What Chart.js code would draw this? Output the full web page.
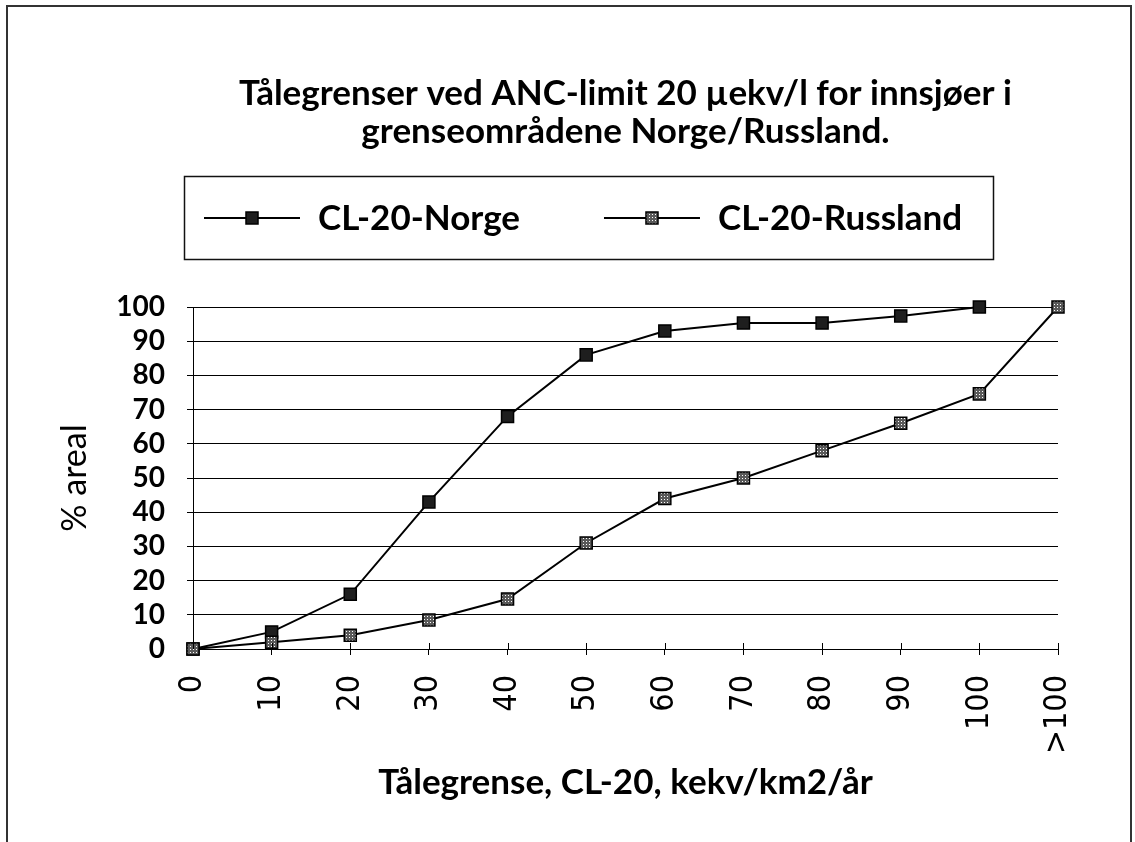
<!DOCTYPE html>
<html>
<head>
<meta charset="utf-8">
<title>Tålegrenser CL-20</title>
<script src="https://cdn.jsdelivr.net/npm/chart.js@4/dist/chart.umd.min.js"></script>
<style>
    html, body { margin: 0; padding: 0; background: #fff; }
    #wrap { position: relative; width: 1135px; height: 842px; }
</style>
</head>
<body>
<div id="wrap"><canvas id="line_chart_cl20" width="1135" height="842"></canvas></div>
<script>
var categories = ["0", "10", "20", "30", "40", "50", "60", "70", "80", "90", "100", ">100"];
var valuesNorge = [0, 5, 16, 43, 68, 86, 93, 95.3, 95.3, 97.4, 100, null];
var valuesRussland = [0, 2, 4, 8.5, 14.6, 31, 44, 50, 58, 66, 74.6, 100];
var yTicks = [0, 10, 20, 30, 40, 50, 60, 70, 80, 90, 100];
var seriesNames = ["CL-20-Norge", "CL-20-Russland"];
var titleLines = ["Tålegrenser ved ANC-limit 20 µekv/l for innsjøer i", "grenseområdene Norge/Russland."];

var chartCL;
var ctxMain = document.getElementById("line_chart_cl20").getContext("2d");

// grainy grey fill for the Russland squares
function dotFill(base, dot){
    var c = document.createElement('canvas');
    c.width = 3; c.height = 3;
    var g = c.getContext('2d');
    g.fillStyle = base;
    g.fillRect(0, 0, 3, 3);
    g.fillStyle = dot;
    g.fillRect(1, 1, 1, 1);
    return ctxMain.createPattern(c, 'repeat');
}
var fillNorge = '#1e1e1e';
var fillRussland = dotFill('#5a5a5a', '#ffffff');

var markerOpt = { pointStyle: 'rect', radius: 8.5, borderWidth: 1.5, rotation: 0 };

function $each(arr, fn){
    for(var i = 0; i < arr.length; i++){ fn(i, arr[i]); }
}

// frame, legend box and the inner half of the x tick marks
var extras = {
    id: 'extras',
    beforeDraw: function(chart){
        var ctx = chart.ctx;
        ctx.save();
        ctx.fillStyle = '#fff';
        ctx.fillRect(0, 0, chart.width, chart.height);
        ctx.strokeStyle = '#333';
        ctx.lineWidth = 2;
        ctx.beginPath();
        ctx.moveTo(7, 842); ctx.lineTo(7, 6); ctx.lineTo(1131, 6); ctx.lineTo(1131, 842);
        ctx.stroke();
        ctx.restore();
    },
    afterDraw: function(chart){
        var ctx = chart.ctx;
        var xs = chart.scales.x;
        var y0 = chart.chartArea.bottom;
        ctx.save();
        ctx.strokeStyle = '#000';
        ctx.lineWidth = 1;
        for(var i = 0; i < categories.length; i++){
            var px = Math.round(xs.getPixelForTick(i)) + 0.5;
            ctx.beginPath();
            ctx.moveTo(px, y0 - 6);
            ctx.lineTo(px, y0);
            ctx.stroke();
        }
        // legend
        ctx.lineWidth = 1.5;
        ctx.strokeStyle = '#111';
        ctx.strokeRect(184.5, 176.5, 809, 83);
        ctx.font = 'bold 35px Lato';
        ctx.textBaseline = 'middle';
        ctx.textAlign = 'left';
        var lx = 204, ly = 218;
        var fills = [fillNorge, fillRussland];
        $each(seriesNames, function(i, name){
            ctx.strokeStyle = '#000';
            ctx.lineWidth = 2;
            ctx.beginPath();
            ctx.moveTo(lx, ly); ctx.lineTo(lx + 96, ly);
            ctx.stroke();
            ctx.fillStyle = fills[i];
            ctx.lineWidth = 1.5;
            Chart.helpers.drawPoint(ctx, markerOpt, lx + 48, ly);
            ctx.fillStyle = '#000';
            ctx.fillText(name, lx + 114, ly + 1);
            lx = lx + 114 + ctx.measureText(name).width + 84;
        });
        ctx.restore();
    }
};

function drawChartCL(){
    try{
        chartCL.destroy();
    }catch(error){

    }
    var config = {
        type: 'line',
        data: {
            labels: categories,
            datasets: [{
                label: seriesNames[0],
                data: valuesNorge,
                borderColor: '#000',
                borderWidth: 2,
                pointStyle: 'rect',
                pointRadius: 8.5,
                pointBorderWidth: 1.5,
                pointBorderColor: '#000',
                pointBackgroundColor: fillNorge,
                tension: 0,
                clip: false,
                order: 1
            }, {
                label: seriesNames[1],
                data: valuesRussland,
                borderColor: '#000',
                borderWidth: 2,
                pointStyle: 'rect',
                pointRadius: 8.5,
                pointBorderWidth: 1.5,
                pointBorderColor: '#000',
                pointBackgroundColor: fillRussland,
                tension: 0,
                clip: false,
                order: 0
            }]
        },
        options: {
            responsive: false,
            animation: false,
            layout: { padding: { left: 0, right: 77, top: 0, bottom: 0 } },
            plugins: {
                legend: { display: false },
                tooltip: { enabled: false },
                title: {
                    display: true,
                    fullSize: false,
                    text: titleLines,
                    color: '#000',
                    font: { family: 'Lato', size: 35, weight: 'bold', lineHeight: 38 / 35 },
                    padding: { top: 75, bottom: 156 }
                }
            },
            scales: {
                x: {
                    type: 'category',
                    offset: false,
                    afterFit: function(scale){ scale.height = 193; },
                    grid: { display: true, drawOnChartArea: false, drawTicks: true, tickLength: 6, color: '#000', lineWidth: 1 },
                    border: { display: true, color: '#000', width: 1 },
                    ticks: {
                        autoSkip: false,
                        minRotation: 90,
                        maxRotation: 90,
                        padding: 20,
                        color: '#000',
                        font: { family: "'Liberation Sans Narrow', 'DejaVu Sans Condensed', sans-serif", size: 32 }
                    },
                    title: {
                        display: true,
                        text: 'Tålegrense, CL-20, kekv/km2/år',
                        color: '#000',
                        font: { family: 'Lato', size: 35, weight: 'bold' },
                        padding: { top: 0, bottom: 38 }
                    }
                },
                y: {
                    min: 0,
                    max: 100,
                    afterFit: function(scale){ scale.width = 193; },
                    afterBuildTicks: function(scale){
                        scale.ticks = yTicks.map(function(v){ return { value: v }; });
                    },
                    grid: { color: '#000', lineWidth: 1, tickLength: 6 },
                    border: { display: true, color: '#000', width: 1 },
                    ticks: {
                        autoSkip: false,
                        stepSize: 10,
                        padding: 22,
                        color: '#000',
                        font: { family: 'Lato', size: 28, weight: 'bold' }
                    },
                    title: {
                        display: true,
                        text: '% areal',
                        color: '#000',
                        font: { family: 'Lato', size: 34 },
                        padding: { top: 54.6, bottom: 0 }
                    }
                }
            }
        },
        plugins: [extras]
    };
    chartCL = new Chart(ctxMain, config);
}

drawChartCL();
</script>
</body>
</html>
